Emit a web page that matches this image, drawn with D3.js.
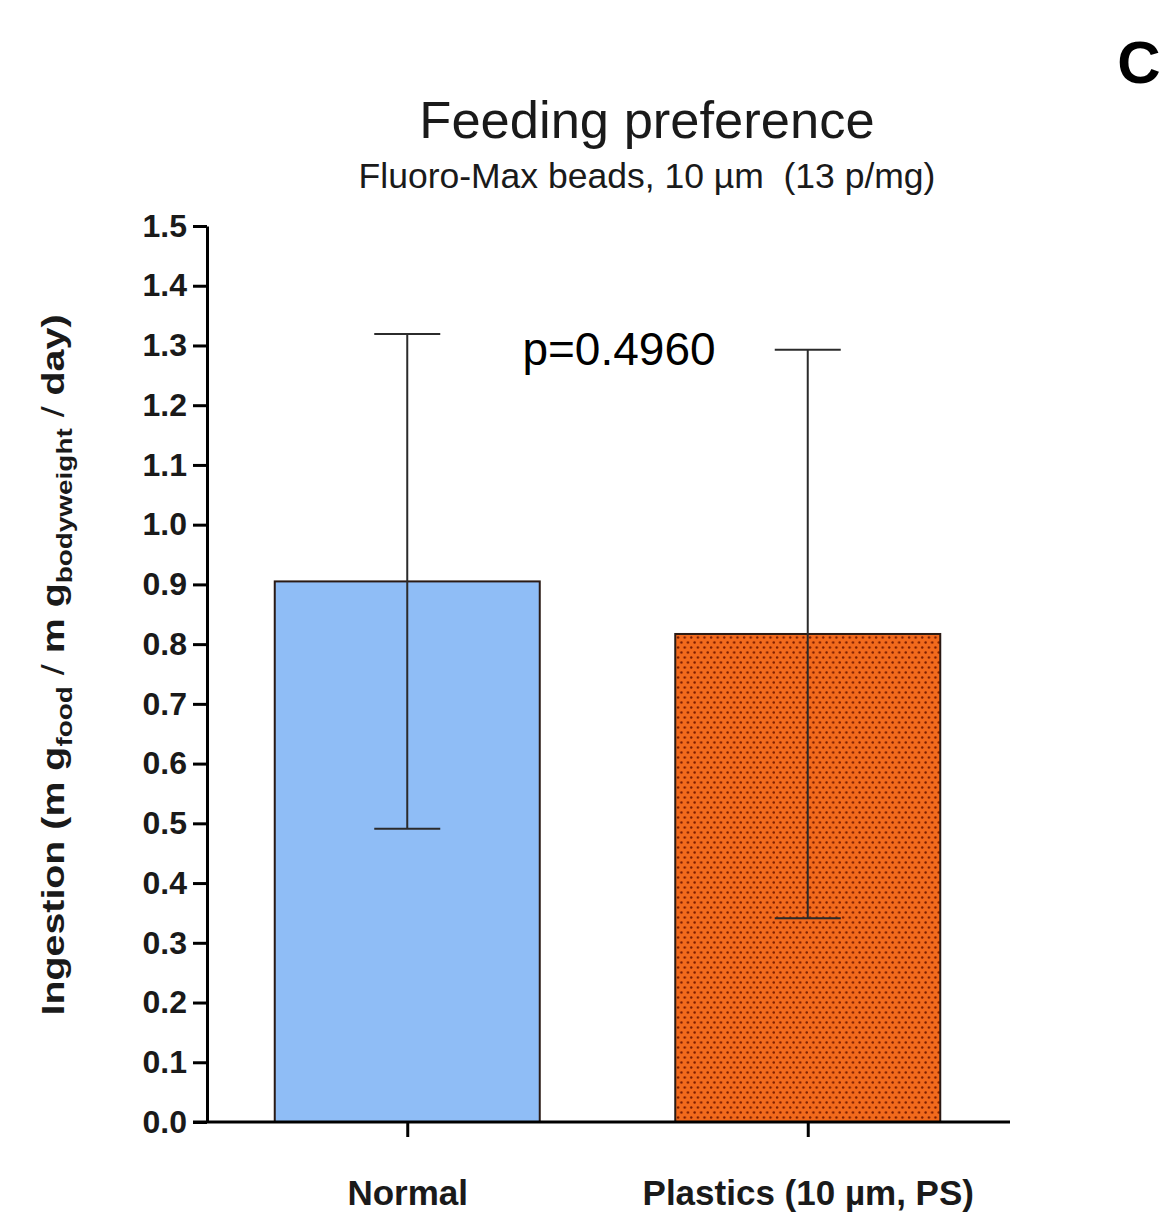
<!DOCTYPE html>
<html>
<head>
<meta charset="utf-8">
<title>Feeding preference</title>
<script src="https://cdn.jsdelivr.net/npm/d3@7"></script>
<style>
    body {
        margin: 0px;
        background-color: white;
    }
    text {
        font-family: "Liberation Sans", Arial, sans-serif;
    }
</style>
</head>
<body>
<svg id="svg"></svg>
<script>
    // values
    var categories = ["Normal", "Plastics (10 µm, PS)"]
    var means = [0.905, 0.817]
    var sds = [0.414, 0.476]
    var yTicks = [0.0, 0.1, 0.2, 0.3, 0.4, 0.5, 0.6, 0.7, 0.8, 0.9, 1.0, 1.1, 1.2, 1.3, 1.4, 1.5]
    var pLabel = "p=0.4960"

    var width = 1173
    var height = 1216

    var svg = d3.select("svg")
        .attr("width", width)
        .attr("height", height)

    var x = d3.scalePoint()
        .domain(categories)
        .range([207, 1008])
        .padding(0.5)

    var y = d3.scaleLinear()
        .domain([0, 1.5])
        .range([1122, 226])

    var barWidth = 265
    var capHalf = 33

    // dotted fill for the plastics bar
    var defs = svg.append("defs")
    var pat = defs.append("pattern")
        .attr("id", "dots")
        .attr("patternUnits", "userSpaceOnUse")
        .attr("width", 6.6)
        .attr("height", 10)
    pat.append("rect").attr("width", 6.6).attr("height", 10).attr("fill", "#f26a1c")
    pat.append("circle").attr("cx", 1.6).attr("cy", 2.5).attr("r", 1.2).attr("fill", "#7a1c00")
    pat.append("circle").attr("cx", 4.9).attr("cy", 7.5).attr("r", 1.2).attr("fill", "#7a1c00")

    var fills = ["#8fbdf6", "url(#dots)"]

    // bars
    svg.append("g").selectAll("rect")
        .data(categories)
        .join("rect")
        .attr("x", d => x(d) - barWidth / 2)
        .attr("y", (d, i) => y(means[i]))
        .attr("width", barWidth)
        .attr("height", (d, i) => y(0) - y(means[i]))
        .attr("fill", (d, i) => fills[i])
        .attr("stroke", "#2a1a14")
        .attr("stroke-width", 2)

    // error bars
    var err = svg.append("g")
        .attr("stroke", "#2b2b2b")
        .attr("stroke-width", 2)
    categories.forEach(function (c, i) {
        var cx = x(c)
        var top = y(means[i] + sds[i])
        var bot = y(means[i] - sds[i])
        err.append("line").attr("x1", cx).attr("x2", cx).attr("y1", top).attr("y2", bot)
        err.append("line").attr("x1", cx - capHalf).attr("x2", cx + capHalf).attr("y1", top).attr("y2", top)
        err.append("line").attr("x1", cx - capHalf).attr("x2", cx + capHalf).attr("y1", bot).attr("y2", bot)
    })

    // y axis
    var yAxis = svg.append("g")
        .attr("transform", "translate(207,0)")
        .call(d3.axisLeft(y).tickValues(yTicks).tickFormat(d3.format(".1f")).tickSize(14).tickSizeOuter(0))
    yAxis.select(".domain").attr("stroke", "black").attr("stroke-width", 3)
    yAxis.selectAll(".tick line").attr("stroke", "black").attr("stroke-width", 3)
    yAxis.selectAll(".tick text")
        .attr("x", -20)
        .attr("font-family", "'Liberation Sans', Arial, sans-serif")
        .attr("font-weight", "bold")
        .attr("font-size", 32)
        .attr("fill", "#1a1a1a")

    // x axis
    var xAxis = svg.append("g")
        .attr("transform", "translate(0,1122)")
        .call(d3.axisBottom(x).tickSize(15).tickSizeOuter(0))
    xAxis.select(".domain").attr("stroke", "black").attr("stroke-width", 3)
        .attr("d", "M193,0H1010")
    xAxis.selectAll(".tick line").attr("stroke", "black").attr("stroke-width", 3)
    xAxis.selectAll(".tick text")
        .attr("y", 83)
        .attr("dy", 0)
        .attr("font-family", "'Liberation Sans', Arial, sans-serif")
        .attr("font-weight", "bold")
        .attr("font-size", 35)
        .attr("fill", "#1a1a1a")

    // titles
    svg.append("text")
        .attr("x", 647)
        .attr("y", 138)
        .attr("text-anchor", "middle")
        .attr("font-size", 52.5)
        .attr("fill", "#1a1a1a")
        .text("Feeding preference")

    svg.append("text")
        .attr("x", 647)
        .attr("y", 188)
        .attr("text-anchor", "middle")
        .attr("font-size", 35.5)
        .attr("fill", "#1a1a1a")
        .style("white-space", "pre")
        .text("Fluoro-Max beads, 10 µm  (13 p/mg)")

    svg.append("text")
        .attr("x", 1139)
        .attr("y", 83)
        .attr("text-anchor", "middle")
        .attr("font-size", 60)
        .attr("font-weight", "bold")
        .attr("fill", "black")
        .text("C")

    svg.append("text")
        .attr("x", 619)
        .attr("y", 365)
        .attr("text-anchor", "middle")
        .attr("font-family", "'Open Sans', sans-serif")
        .attr("font-size", 46)
        .attr("fill", "black")
        .text(pLabel)

    // y label with subscripts, stretched along its length like the original
    var yl = svg.append("text")
        .attr("transform", "translate(64,665) rotate(-90) scale(1.27,1)")
        .attr("text-anchor", "middle")
        .attr("font-size", 31)
        .attr("font-weight", "bold")
        .attr("fill", "#1a1a1a")
        .style("white-space", "pre")
    yl.append("tspan").text("Ingestion (m g")
    yl.append("tspan").attr("font-size", 22).attr("dy", 8).text("food")
    yl.append("tspan").attr("dy", -8).attr("font-weight", "normal").text(" / ")
    yl.append("tspan").text("m g")
    yl.append("tspan").attr("font-size", 22).attr("dy", 8).text("bodyweight")
    yl.append("tspan").attr("dy", -8).attr("font-weight", "normal").text(" / ")
    yl.append("tspan").text("day)")
</script>
</body>
</html>
